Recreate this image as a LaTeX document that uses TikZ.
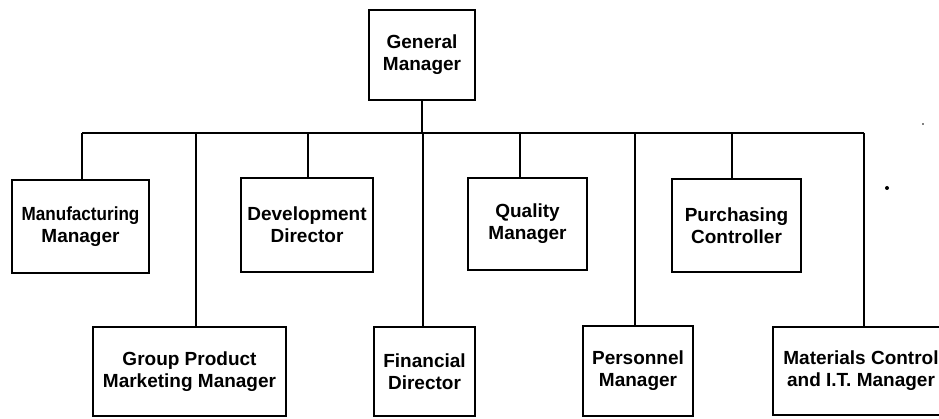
\documentclass[tikz,border=0pt]{standalone}
\usepackage{fontspec}
\setmainfont{Liberation Sans}
\begin{document}
\begin{tikzpicture}[x=1pt,y=-1pt,
  box/.style={draw, line width=2.2pt, align=center, inner sep=0pt,
    font=\bfseries\fontsize{19}{22}\selectfont},
  link/.style={line width=2.1pt}]
\useasboundingbox (0,0) rectangle (939,419);
\clip (0,0) rectangle (939,419);
% nodes
\node[box, minimum width=106pt, minimum height=90pt] (gm) at (422,55) {General\\Manager};
\node[box, minimum width=137pt, minimum height=93pt] (mfg) at (80.5,226.5) {\scalebox{0.9}[1]{Manufacturing}\\Manager};
\node[box, minimum width=132pt, minimum height=94pt] (dev) at (307,225) {Development\\Director};
\node[box, minimum width=119pt, minimum height=92pt] (qual) at (527.5,224) {Quality\\Manager};
\node[box, minimum width=129pt, minimum height=93pt] (purch) at (736.5,225.5) {Purchasing\\Controller};
\node[box, minimum width=193pt, minimum height=89pt] (grp) at (189.5,371.5) {Group Product\\Marketing Manager};
\node[box, minimum width=101pt, minimum height=89pt] (fin) at (424.5,371.5) {Financial\\Director};
\node[box, minimum width=110pt, minimum height=90pt] (pers) at (638,371) {Personnel\\Manager};
\node[box, minimum width=176pt, minimum height=88pt] (mat) at (861,371) {Materials Control\\and I.T. Manager};
% bar
\coordinate (bl) at (82,133);
\coordinate (br) at (864,133);
\coordinate (tmfg) at (82,133);
\coordinate (tgrp) at (196,133);
\coordinate (tdev) at (308,133);
\coordinate (tfin) at (423,133);
\coordinate (tqual) at (520,133);
\coordinate (tpers) at (635,133);
\coordinate (tpurch) at (732,133);
\coordinate (tmat) at (864,133);
\draw[link] (bl) -- (br);
\draw[link] (gm.south) -- (gm.south |- bl);
\draw[link] (tmfg) -- (tmfg |- mfg.north);
\draw[link] (tgrp) -- (tgrp |- grp.north);
\draw[link] (tdev) -- (tdev |- dev.north);
\draw[link] (tfin) -- (tfin |- fin.north);
\draw[link] (tqual) -- (tqual |- qual.north);
\draw[link] (tpers) -- (tpers |- pers.north);
\draw[link] (tpurch) -- (tpurch |- purch.north);
\draw[link] (tmat) -- (tmat |- mat.north);
% specks
\fill (887,188) circle (2pt);
\fill (923,124) circle (0.9pt);
\end{tikzpicture}
\end{document}
